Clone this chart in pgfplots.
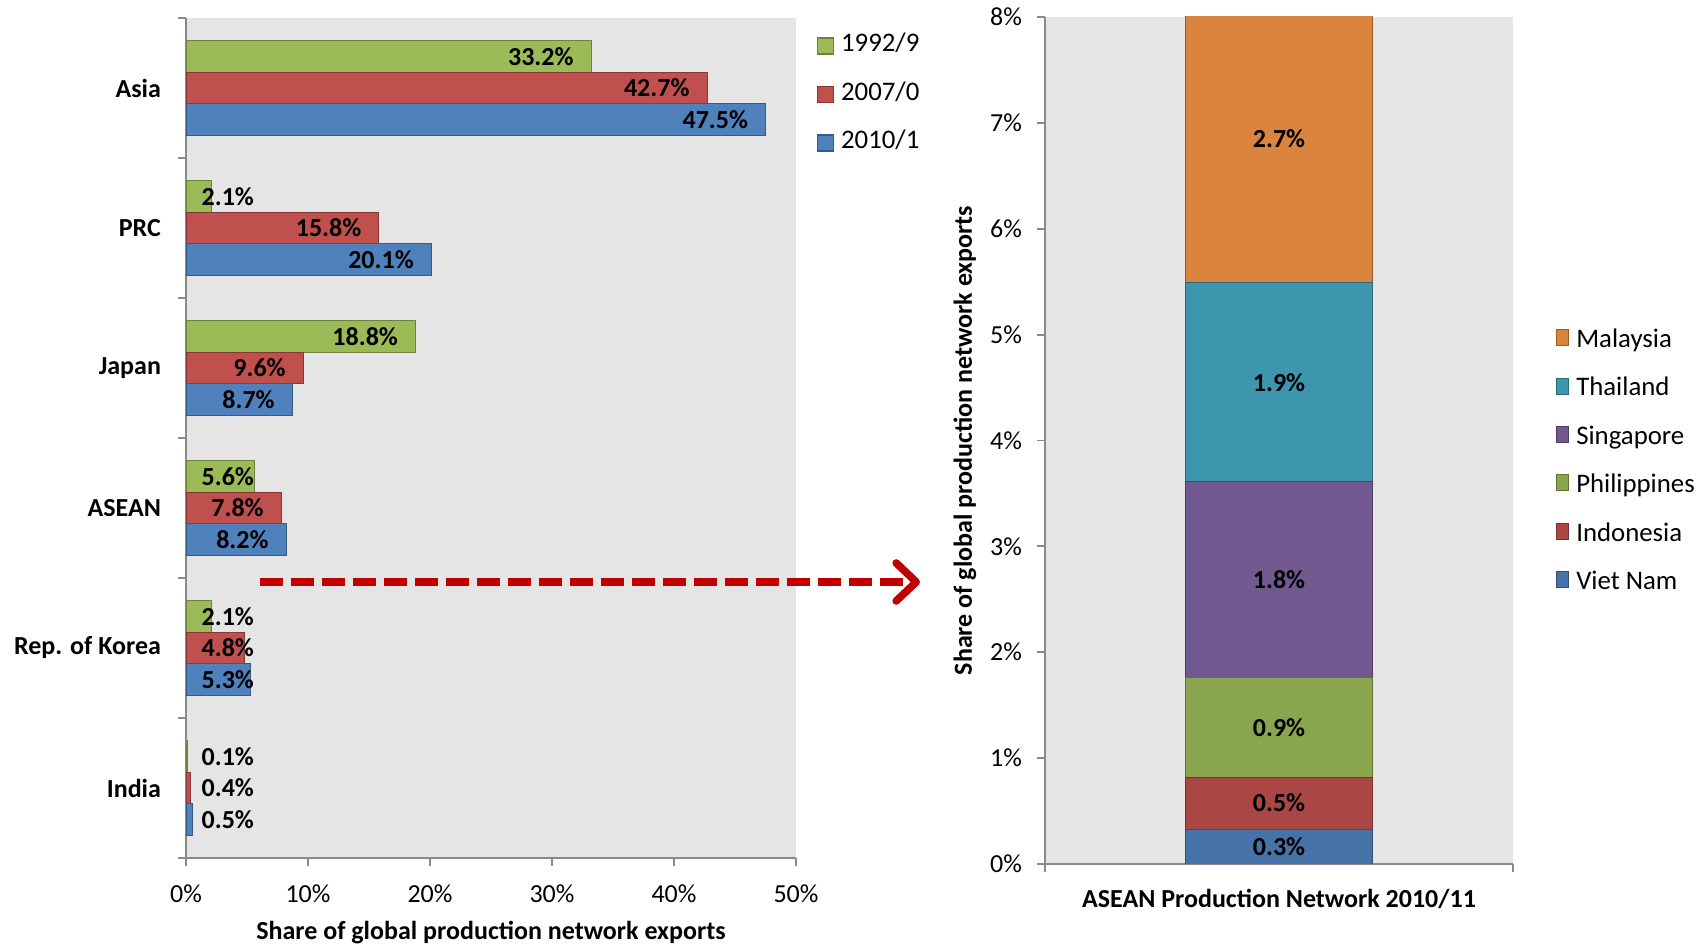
\documentclass[border=0pt]{standalone}
\usepackage{pgfplots}
\pgfplotsset{compat=1.18}
\usepackage{fontspec}
\setmainfont{Carlito}
\usetikzlibrary{arrows.meta}

\definecolor{cGreen}{HTML}{9BBB59}
\definecolor{cRed}{HTML}{C0504D}
\definecolor{cBlue}{HTML}{4F81BD}
\definecolor{mOrange}{HTML}{DB843D}
\definecolor{mTeal}{HTML}{3D96AE}
\definecolor{mPurple}{HTML}{71588F}
\definecolor{mGreen}{HTML}{89A54E}
\definecolor{mRed}{HTML}{AA4643}
\definecolor{mBlue}{HTML}{4572A7}
\definecolor{axgray}{HTML}{898989}
\definecolor{arrowred}{HTML}{C00000}

\newcommand{\fs}{\fontsize{13}{15}\selectfont}

\pgfplotsset{
  xlsbase/.style={
    scale only axis,
    axis background/.style={fill=black!10},
    axis line style={axgray, line width=0.9pt},
    tick style={axgray, line width=0.9pt},
    major tick length=4pt,
    tick align=outside,
    every tick label/.append style={font=\fs, text=black},
    label style={font=\fs\bfseries},
    legend image code/.code={\draw[##1, line width=0.8pt] (0pt,-4pt) rectangle (8pt,4pt);},
    legend style={draw=none, fill=none, inner sep=0pt,
      font=\fontsize{13.4}{15}\selectfont,
      row sep=9.2pt, legend cell align=left,
      nodes={inner sep=1.5pt, text height=9pt, text depth=3pt},
      /tikz/every odd column/.append style={column sep=2pt}},
  },
  barlbl/.style={only marks, mark=none, forget plot, nodes near coords,
    point meta=explicit symbolic,
    nodes near coords style={inner sep=0pt, font=\fs\bfseries, text=black}},
}

\begin{document}
\begin{tikzpicture}
\useasboundingbox (0,0) rectangle (849pt,472.5pt);

% left: shares by economy
\begin{axis}[xlsbase,
  at={(93pt,43.5pt)}, anchor=south west,
  width=305pt, height=420pt,
  xmin=0, xmax=50, ymin=-0.5, ymax=5.5, y dir=reverse,
  axis x line*=bottom, axis y line*=left,
  xtick={0,10,...,50}, xticklabels={0\%,10\%,20\%,30\%,40\%,50\%},
  xticklabel style={yshift=-6pt},
  ytick={-0.5,0.5,...,5.5}, yticklabels={},
  extra y ticks={0,1,2,3,4,5},
  extra y tick labels={Asia,PRC,Japan,ASEAN,Rep. of Korea,India},
  extra y tick style={major tick length=0pt,
    yticklabel style={font=\fs\bfseries, xshift=-9pt}},
  xlabel={Share of global production network exports},
  xlabel style={at={(axis description cs:0.5,0)}, anchor=center, yshift=-37.5pt},
  legend style={at={(axis description cs:1.033,0.985)}, anchor=north west},
]
\addplot[xbar, bar width=0.225, bar shift=-0.225, fill=cGreen, draw=cGreen!70!black]
  coordinates {(33.2,0) (2.1,1) (18.8,2) (5.6,3) (2.1,4) (0.1,5)};
\addlegendentry{1992/9}
\addplot[xbar, bar width=0.225, bar shift=0, fill=cRed, draw=cRed!70!black]
  coordinates {(42.7,0) (15.8,1) (9.6,2) (7.8,3) (4.8,4) (0.4,5)};
\addlegendentry{2007/0}
\addplot[xbar, bar width=0.225, bar shift=0.225, fill=cBlue, draw=cBlue!70!black]
  coordinates {(47.5,0) (20.1,1) (8.7,2) (8.2,3) (5.3,4) (0.5,5)};
\addlegendentry{2010/1}

% value labels, inside end of each bar
\addplot[barlbl, nodes near coords style={anchor=east}] coordinates {
  (31.8,-0.225) [33.2\%] (5.6,0.775) [2.1\%] (17.4,1.775) [18.8\%]
  (5.6,2.775) [5.6\%] (5.6,3.775) [2.1\%] (5.6,4.775) [0.1\%]};
\addplot[barlbl, nodes near coords style={anchor=east}] coordinates {
  (41.3,0) [42.7\%] (14.4,1) [15.8\%] (8.2,2) [9.6\%]
  (6.4,3) [7.8\%] (5.6,4) [4.8\%] (5.6,5) [0.4\%]};
\addplot[barlbl, nodes near coords style={anchor=east}] coordinates {
  (46.1,0.225) [47.5\%] (18.7,1.225) [20.1\%] (7.3,2.225) [8.7\%]
  (6.8,3.225) [8.2\%] (5.6,4.225) [5.3\%] (5.6,5.225) [0.5\%]};
\end{axis}

% right: ASEAN breakdown
\begin{axis}[xlsbase,
  at={(522.5pt,40.5pt)}, anchor=south west,
  width=234pt, height=423.5pt,
  ybar stacked, bar width=0.8,
  xmin=-1, xmax=1, ymin=0, ymax=8,
  axis x line*=bottom, axis y line*=left,
  xtick={-1,1}, xticklabels={},
  ytick={0,1,...,8}, yticklabels={0\%,1\%,2\%,3\%,4\%,5\%,6\%,7\%,8\%},
  yticklabel style={xshift=-4pt},
  xlabel={ASEAN Production Network 2010/11},
  xlabel style={at={(axis description cs:0.5,0)}, anchor=center, yshift=-17.5pt},
  ylabel={Share of global production network exports},
  ylabel style={at={(axis description cs:0,0.5)}, anchor=center, yshift=40pt},
  reverse legend,
  legend style={at={(axis description cs:1.092,0.635)}, anchor=north west},
]
\addplot[fill=mBlue, draw=mBlue!70!black] coordinates {(0,0.33)};
\addlegendentry{Viet Nam}
\addplot[fill=mRed, draw=mRed!70!black] coordinates {(0,0.49)};
\addlegendentry{Indonesia}
\addplot[fill=mGreen, draw=mGreen!70!black] coordinates {(0,0.94)};
\addlegendentry{Philippines}
\addplot[fill=mPurple, draw=mPurple!70!black] coordinates {(0,1.85)};
\addlegendentry{Singapore}
\addplot[fill=mTeal, draw=mTeal!70!black] coordinates {(0,1.88)};
\addlegendentry{Thailand}
\addplot[fill=mOrange, draw=mOrange!70!black] coordinates {(0,2.7)};
\addlegendentry{Malaysia}
\end{axis}

% labels centred in the stacked segments
\begin{axis}[scale only axis, hide axis,
  at={(522.5pt,40.5pt)}, anchor=south west,
  width=234pt, height=423.5pt,
  xmin=-1, xmax=1, ymin=0, ymax=8]
\addplot[barlbl, nodes near coords style={anchor=center}] coordinates {
  (0,0.165) [0.3\%] (0,0.575) [0.5\%] (0,1.29) [0.9\%]
  (0,2.685) [1.8\%] (0,4.55) [1.9\%] (0,6.85) [2.7\%]};
\end{axis}

% arrow from ASEAN to the breakdown
\draw[arrowred, line width=3.8pt, dash pattern=on 11.5pt off 4pt,
  -{Straight Barb[length=10pt, width=19pt, round]}]
  (130pt,181.5pt) -- (460pt,181.5pt);
\end{tikzpicture}
\end{document}
